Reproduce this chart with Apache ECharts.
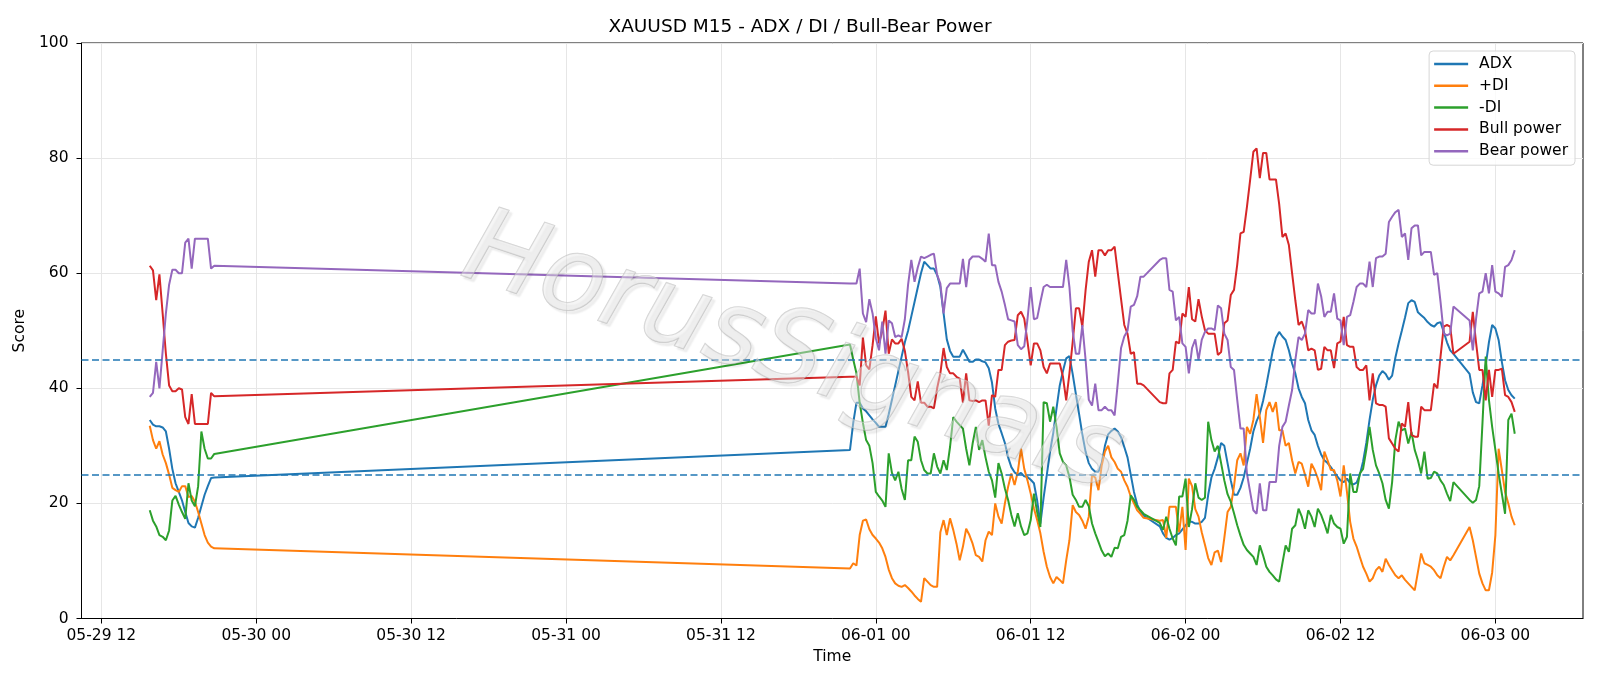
<!DOCTYPE html>
<html>
<head>
<meta charset="utf-8">
<title>XAUUSD M15 - ADX / DI / Bull-Bear Power</title>
<script src="https://cdn.jsdelivr.net/npm/echarts@6/dist/echarts.min.js"></script>
<style>
  html, body { margin: 0; padding: 0; background: #fff; }
  #chart { width: 1600px; height: 686px; }
</style>
</head>
<body>
<div id="chart"></div>
<script>
// M15 bars in four runs (weekend gap, then the daily 21:00-22:00 break)
const segments = [
  [Date.UTC(2020, 4, 29, 15, 45), 21],
  [Date.UTC(2020, 4, 31, 22, 0), 92],
  [Date.UTC(2020, 5, 1, 22, 0), 92],
  [Date.UTC(2020, 5, 2, 22, 0), 15]
];

const xTicks = [
  Date.UTC(2020, 4, 29, 12), Date.UTC(2020, 4, 30, 0), Date.UTC(2020, 4, 30, 12),
  Date.UTC(2020, 4, 31, 0), Date.UTC(2020, 4, 31, 12), Date.UTC(2020, 5, 1, 0),
  Date.UTC(2020, 5, 1, 12), Date.UTC(2020, 5, 2, 0), Date.UTC(2020, 5, 2, 12),
  Date.UTC(2020, 5, 3, 0)
];
const xTickLabels = ['05-29 12', '05-30 00', '05-30 12', '05-31 00', '05-31 12',
  '06-01 00', '06-01 12', '06-02 00', '06-02 12', '06-03 00'];

// ADX
const adx1 = [34.5, 33.7, 33.4, 33.4, 33.2, 32.5, 29.5, 26, 23.5, 22,
  20.5, 18.5, 16.6, 16, 15.8, 17.5, 19.5, 21.5, 23, 24.4,
  24.5];
const adx2 = [29.3, 34, 37.5, 37.5, 36.5, 36, 35.3, 34.6, 34, 33.3,
  33.3, 33.3, 35.5, 38, 40.5, 43, 45.5, 48, 50, 52.5,
  55, 57.5, 60, 62, 61.4, 60.8, 60.8, 59.7, 57.6, 53,
  48.5, 46.5, 45.5, 45.5, 45.5, 46.7, 45.7, 44.6, 44.6, 45,
  45, 44.7, 44.5, 43.5, 41, 36.5, 33.8, 32.2, 30.5, 28,
  26.3, 25.4, 25, 25.3, 24.7, 24.6, 24.1, 23.5, 20.5, 16.5,
  21, 25, 29, 32.3, 36.5, 40.5, 43, 45.2, 45.6, 42.5,
  39, 35.5, 32, 29, 27, 26, 25.5, 25.5, 27, 30,
  32, 32.6, 33, 32.5, 31.5, 29.8, 28, 25, 22, 19.8,
  18.6, 17.9];
const adx3 = [16, 14.8, 14, 13.7, 14, 14.5, 14.8, 15.5, 16.2, 16.8,
  16.8, 16.5, 16.5, 16.8, 17.5, 21.5, 24.5, 26, 28, 30.5,
  30, 27, 24, 21.5, 21.5, 22.7, 24.5, 27, 29.5, 32.5,
  34.3, 35.6, 37.8, 40.5, 43.5, 46.5, 48.8, 49.8, 49, 48.4,
  46.6, 44.3, 42.6, 40, 38.5, 37.4, 34.5, 32.7, 31.9, 30,
  28.5, 27.5, 27, 26.3, 25.5, 24.7, 24, 23.7, 24.3, 23.5,
  23.3, 23.6, 25, 27.3, 30.5, 34.5, 38, 40.5, 42.2, 43,
  42.5, 41.5, 42.2, 45.3, 47.8, 50, 52.3, 54.8, 55.3, 55,
  53.2, 52.7, 52.2, 51.5, 51, 50.7, 51.3, 51.5, 49.8, 48,
  46.6, 46];
const adx4 = [42.5, 39.3, 37.6, 37.4, 40.5, 44, 48, 51, 50.4, 48.4,
  44.6, 41.4, 39.7, 38.8, 38.2];

// +DI
const pdi1 = [33.5, 31, 29.5, 30.8, 28.5, 27, 25, 22.7, 22.3, 22,
  23, 23, 21.1, 21.3, 20.3, 18.5, 16.5, 14.5, 13.2, 12.5,
  12.2];
const pdi2 = [8.7, 9.6, 9.2, 14.5, 17, 17.2, 15.5, 14.5, 13.9, 13.2,
  12.2, 10.7, 8.5, 7, 6.1, 5.7, 5.5, 5.8, 5.3, 4.7,
  4, 3.4, 2.9, 7, 6.4, 5.8, 5.5, 5.5, 15, 17.1,
  14.5, 17.4, 15.4, 13, 10.1, 12.5, 15.6, 14.5, 13, 11,
  10.7, 9.9, 13.6, 15.1, 14.5, 20, 17.7, 16.5, 20, 22.9,
  25.2, 23.2, 25.5, 29.5, 26, 24, 21.7, 19.1, 17.1, 14.8,
  11.6, 9, 7.2, 6.1, 7.2, 6.7, 6.1, 10.1, 13.6, 19.7,
  18.5, 18, 17, 15.6, 17.7, 24.9, 24.5, 22.3, 26.6, 29,
  30, 28, 27.2, 26, 25.5, 24, 22.9, 21.2, 20, 18.8,
  18.2, 17.5];
const pdi3 = [17, 17.1, 14, 19.4, 19.4, 19.4, 15, 19.4, 11.9, 24.3,
  23, 19, 17.7, 15, 12.8, 10.5, 9.3, 11.5, 11.8, 9.8,
  14, 18.5, 19.4, 23, 27.5, 28.7, 26.6, 33.3, 32.1, 34.5,
  39, 35, 30.5, 36.2, 37.6, 35.9, 37.6, 32.7, 32.7, 30,
  30.5, 27.5, 25.2, 27.2, 26.9, 25, 22.9, 26.9, 25.8, 24.3,
  22.3, 29, 27.5, 25.8, 25.8, 24, 21.2, 26.6, 22, 16.8,
  13.9, 12.5, 10.7, 9, 7.8, 6.4, 7, 8.4, 9, 8.1,
  10.4, 9.3, 8.4, 7.5, 7, 7.5, 6.7, 6.1, 5.5, 4.9,
  8.1, 11.3, 9.6, 9.3, 9, 8.4, 7.5, 7, 9, 10.7,
  10.1, 11];
const pdi4 = [15.9, 13.6, 10.7, 7.8, 6.1, 4.9, 4.9, 8, 14.5, 29.5,
  25.8, 22, 20, 17.7, 16.2];

// -DI
const mdi1 = [18.8, 17, 16, 14.5, 14.2, 13.6, 15.3, 20.5, 21.3, 19.8,
  18.5, 17.3, 23.5, 20.5, 19.5, 23, 32.5, 29.5, 27.8, 27.8,
  28.6];
const mdi2 = [47.6, 45, 42.6, 37.5, 34, 31, 30, 27, 22, 21.2,
  20.5, 19.4, 28.7, 25.3, 24, 25.5, 22.5, 20.6, 27.5, 27.5,
  31.6, 30.7, 27.5, 25.8, 25.2, 25.2, 28.7, 26.4, 25.2, 27.5,
  25.8, 29.8, 35, 34.2, 33.6, 33, 29.5, 26.6, 30.4, 33.3,
  29.3, 31, 28, 25.5, 24, 21, 27, 25.2, 22.6, 20.6,
  18, 16, 18.3, 16, 14.5, 14.8, 17.1, 21.7, 18.5, 15.9,
  37.6, 37.4, 34.2, 36.8, 33.3, 28.7, 27.2, 26.6, 24.6, 21.5,
  20.6, 19.4, 19.4, 20.6, 19.5, 16.5, 14.8, 13.3, 11.8, 10.8,
  11.3, 10.7, 12.3, 12.2, 14.2, 14.5, 17, 21.4, 20.6, 19.4,
  18.8, 18.2];
const mdi3 = [16.6, 15.4, 17.7, 15.6, 13.9, 12.7, 21.2, 21.2, 24.3, 15.9,
  19, 23.5, 21, 20.6, 21, 34.2, 31, 29, 30, 27,
  24, 21.6, 20.3, 18.3, 16.2, 14.4, 12.8, 11.9, 11.3, 10.7,
  9.3, 12.7, 11, 9, 8.1, 7.5, 6.8, 6.4, 9.6, 12.7,
  11.6, 15.6, 16.2, 19.1, 17.7, 15.6, 18.8, 17.7, 15.9, 19.1,
  18, 16.5, 14.8, 18, 16.5, 15.9, 15.6, 13, 14.2, 25.2,
  22, 22, 25.2, 26, 29.3, 33.3, 29.3, 26.6, 25.2, 23.5,
  20.6, 19.1, 23.7, 31, 34.2, 32.7, 33, 30.4, 32.4, 29.3,
  27.5, 25.2, 29, 24.3, 24.4, 25.5, 25.2, 24, 23.2, 21.7,
  20.4, 23.7];
const mdi4 = [20.6, 20.1, 20.6, 23, 34, 45.5, 38, 33.3, 29.3, 25.2,
  21.7, 18.2, 34.5, 35.6, 32.1];

// Bull power
const bull1 = [61.3, 60.5, 55.3, 59.8, 53, 46, 40.5, 39.5, 39.5, 40,
  39.8, 35, 33.8, 39, 33.8, 33.8, 33.8, 33.8, 33.8, 39.2,
  38.6];
const bull2 = [42, 42, 42, 40.5, 48.8, 44, 43.3, 47.5, 52.5, 47.8,
  50, 53.5, 46, 48.5, 47.8, 47.8, 48.6, 46.5, 42.8, 38.5,
  37.9, 41.2, 37.5, 37.5, 36.8, 36.8, 36.5, 40, 42.6, 47,
  43.7, 42.6, 42.6, 42, 41.7, 37.5, 42.6, 37.9, 37.8, 37.9,
  37.6, 37.9, 37.9, 33.5, 38.8, 38.5, 43.2, 43.2, 47.5, 48.1,
  48.3, 48.4, 52.7, 53.3, 52.1, 48.1, 44, 47.8, 47.8, 46.6,
  43.7, 42.6, 44.3, 44.3, 44.3, 44.3, 42, 37.9, 42.6, 48,
  53.9, 53.9, 50.7, 57, 62, 64, 59.4, 64, 64, 63.1,
  64, 64, 64.6, 60, 55.5, 51, 49.5, 46, 46.3, 40.8,
  40.8, 40.5];
const bull3 = [37.6, 37.4, 37.4, 42.6, 43.2, 48.1, 47.8, 53, 52.4, 57.6,
  52, 51.6, 55.5, 52.5, 50.1, 49.5, 49.5, 49.5, 45.8, 46.3,
  51.3, 51.8, 56.2, 57.1, 61.5, 66.9, 67.2, 71.5, 76.2, 81.1,
  81.7, 76.5, 80.9, 80.9, 76.3, 76.3, 76.3, 72, 66.3, 66.9,
  64.9, 60, 55.3, 51, 51.6, 50, 46.6, 46.9, 46.6, 43.2,
  43.4, 47.2, 46.6, 46.6, 43.5, 47.8, 48.1, 52.4, 47.5, 47.2,
  47.2, 43.7, 43.2, 43.2, 44, 37.9, 42.6, 37.4, 37.1, 37.1,
  36.8, 31.3, 30.4, 29.5, 29, 33.9, 33.3, 37.6, 31.9, 31.6,
  31.6, 36.8, 36.2, 36.2, 36.2, 40.8, 40, 45.5, 50.7, 51,
  50.7, 46];
const bull4 = [48.1, 53.3, 48, 43.2, 43.2, 37.9, 43.2, 38.5, 43.2, 43.2,
  43.4, 38.8, 38.5, 37.6, 35.9];

// Bear power
const bear1 = [38.5, 39.2, 44.6, 40, 46.5, 53, 58, 60.6, 60.6, 60,
  60, 65.3, 66, 60.8, 66, 66, 66, 66, 66, 60.8,
  61.3];
const bear2 = [58.2, 58.2, 58.2, 60.8, 53, 51.5, 55.5, 53, 48.7, 46.6,
  51.6, 46, 51.8, 51.3, 48.9, 49.2, 48.9, 52, 58, 62.3,
  58.5, 61, 62.9, 62.6, 62.9, 63.2, 63.4, 59.7, 58.2, 53,
  57.4, 58.2, 58.2, 58.2, 58.2, 62.5, 57.6, 62.3, 62.9, 62.9,
  62.9, 62.5, 62, 66.9, 61.4, 61.4, 58.5, 56.8, 54.5, 52,
  51.8, 51.6, 47.5, 46.8, 47.3, 52, 57.6, 52, 52.2, 55,
  57.6, 58, 57.6, 57.6, 57.6, 57.6, 57.6, 62.3, 57.6, 50,
  46, 46, 51, 45, 38, 37, 40.8, 36.2, 36.2, 36.8,
  36.2, 36.2, 35.3, 41, 47, 49, 50, 54.2, 54.5, 56,
  59.4, 59.4];
const bear3 = [62.3, 62.6, 62.6, 57.1, 56.8, 51.8, 52.4, 47.8, 47.2, 42.6,
  47, 48.5, 44.9, 48.4, 49.8, 50.4, 50.4, 50.1, 54.4, 53.9,
  49.5, 48.4, 43.7, 43.2, 38, 33, 33, 25.2, 22, 18.8,
  18.2, 23.5, 18.8, 18.8, 23.7, 23.7, 23.7, 30, 33.3, 34.2,
  37, 39.7, 44.9, 48.9, 48.4, 49.5, 53.6, 53, 53, 58.2,
  56, 52.4, 53.3, 53.3, 56.5, 52.1, 51.8, 47.5, 52.4, 52.7,
  55, 57.6, 58.2, 58.2, 57.6, 62, 57.6, 62.6, 62.9, 62.9,
  63.4, 68.9, 69.8, 70.6, 71, 66.3, 66.9, 62.3, 67.8, 68.3,
  68.3, 63.1, 63.7, 63.7, 63.7, 59.7, 60, 55, 49.5, 49.2,
  49.5, 54.2];
const bear4 = [51.8, 46.6, 52, 56.5, 56.8, 60, 56.5, 61.4, 56.8, 56.5,
  55.9, 61.1, 61.4, 62.3, 64];

const times = [];
segments.forEach(([start, n]) => {
  for (let k = 0; k < n; k++) times.push(start + k * 15 * 60 * 1000);
});
function pairs(parts) {
  const vals = [].concat(...parts);
  return times.map((t, k) => [t, vals[k]]);
}

const FONT = 'DejaVu Sans';
const chart = echarts.init(document.getElementById('chart'));

function line(name, color, parts, extra) {
  return Object.assign({
    name: name,
    type: 'line',
    data: pairs(parts),
    symbol: 'none',
    lineStyle: { color: color, width: 2 },
    itemStyle: { color: color },
    animation: false
  }, extra || {});
}

const option = {
  backgroundColor: '#fff',
  animation: false,
  title: {
    text: 'XAUUSD M15 - ADX / DI / Bull-Bear Power',
    left: 'center',
    top: 18,
    padding: 0,
    textStyle: { fontFamily: FONT, fontSize: 18.5, fontWeight: 'normal', color: '#000' }
  },
  legend: {
    orient: 'vertical',
    right: 25,
    top: 51,
    padding: [4, 7, 5, 5],
    icon: 'rect',
    itemWidth: 34,
    itemHeight: 2.5,
    itemGap: 3.8,
    backgroundColor: 'rgba(255,255,255,0.8)',
    borderColor: '#d6d6d6',
    borderWidth: 1,
    borderRadius: 4,
    textStyle: { fontFamily: FONT, fontSize: 15.5, color: '#000', lineHeight: 18, padding: [0, 0, 0, 6] },
    data: ['ADX', '+DI', '-DI', 'Bull power', 'Bear power']
  },
  grid: { left: 81.5, right: 17, top: 43, bottom: 67.5, show: true, borderColor: '#000', borderWidth: 1 },
  xAxis: {
    type: 'value',
    min: Date.UTC(2020, 4, 29, 10, 27, 45),
    max: Date.UTC(2020, 5, 3, 6, 47, 15),
    name: 'Time',
    nameLocation: 'middle',
    nameGap: 30,
    nameTextStyle: { fontFamily: FONT, fontSize: 15.5, color: '#000' },
    axisLine: { lineStyle: { color: '#000', width: 1 } },
    axisTick: { show: true, length: 5, customValues: xTicks, lineStyle: { color: '#000' } },
    axisLabel: {
      customValues: xTicks,
      margin: 9,
      fontFamily: FONT, fontSize: 15.5, color: '#000',
      formatter: v => xTickLabels[xTicks.indexOf(v)] || ''
    },
    splitLine: { show: true, lineStyle: { color: '#e6e6e6', width: 1 } }
  },
  yAxis: {
    type: 'value',
    min: 0,
    max: 100,
    interval: 20,
    name: 'Score',
    nameLocation: 'middle',
    nameGap: 41,
    nameTextStyle: { fontFamily: FONT, fontSize: 15.5, color: '#000' },
    axisLine: { show: true, lineStyle: { color: '#000', width: 1 } },
    axisTick: { show: true, length: 5, lineStyle: { color: '#000' } },
    axisLabel: { margin: 13, fontFamily: FONT, fontSize: 15.5, color: '#000' },
    splitLine: { show: true, lineStyle: { color: '#e6e6e6', width: 1 } }
  },
  graphic: [{
    type: 'text',
    x: 792,
    y: 356,
    rotation: -0.32,
    z: 100,
    silent: true,
    style: {
      text: 'HorusSignals',
      fontFamily: FONT,
      fontSize: 105,
      fontStyle: 'italic',
      fontWeight: 200,
      align: 'center',
      verticalAlign: 'middle',
      fill: 'rgba(235,235,235,0.45)',
      stroke: 'rgba(175,175,175,0.55)',
      lineWidth: 1.2,
      textShadowColor: 'rgba(0,0,0,0.13)',
      textShadowBlur: 2,
      textShadowOffsetX: 3,
      textShadowOffsetY: 3
    }
  }],
  series: [
    line('ADX', '#1f77b4', [adx1, adx2, adx3, adx4], {
      markLine: {
        silent: true,
        animation: false,
        symbol: ['none', 'none'],
        label: { show: false },
        lineStyle: { color: '#1f77b4', type: [7, 3.5], width: 1.5 },
        data: [{ yAxis: 25 }, { yAxis: 45 }]
      }
    }),
    line('+DI', '#ff7f0e', [pdi1, pdi2, pdi3, pdi4]),
    line('-DI', '#2ca02c', [mdi1, mdi2, mdi3, mdi4]),
    line('Bull power', '#d62728', [bull1, bull2, bull3, bull4]),
    line('Bear power', '#9467bd', [bear1, bear2, bear3, bear4])
  ]
};
chart.setOption(option);
</script>
</body>
</html>
